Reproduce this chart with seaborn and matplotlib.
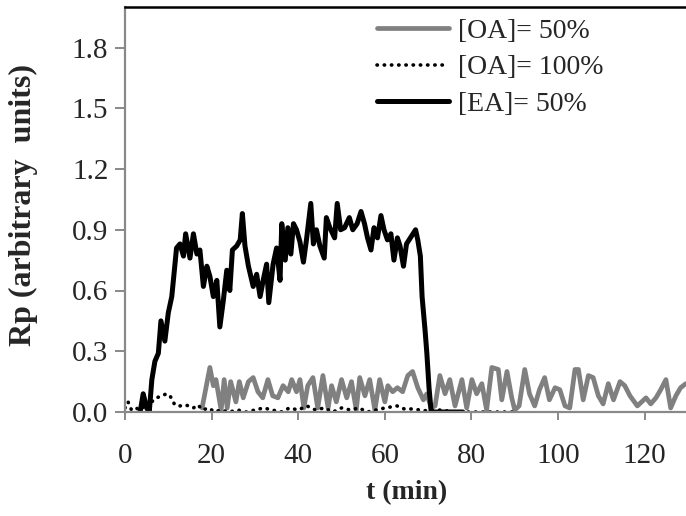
import numpy as np
import pandas as pd
import matplotlib
matplotlib.use("Agg")
import matplotlib.pyplot as plt
import seaborn as sns

# ── data ─────────────────────────────────────────────────────
t_oa50 = [17.8, 19.6, 20.4, 21.0, 22.2, 22.9, 23.6, 24.4, 25.6, 26.4,
          27.3, 28.5, 29.6, 30.7, 31.8, 33.0, 34.1, 35.3, 36.5, 37.7,
          38.5, 39.6, 40.4, 41.3, 42.2, 43.4, 44.5, 45.7, 46.9, 47.7,
          48.8, 50.0, 51.2, 52.3, 53.4, 54.2, 55.4, 56.5, 57.7, 58.8,
          60.0, 60.7, 61.8, 62.9, 64.1, 65.3, 66.4, 67.6, 68.9, 69.7,
          70.7, 71.6, 72.7, 73.9, 75.0, 76.2, 77.8, 78.9, 80.1, 81.2,
          82.4, 83.5, 84.7, 86.2, 87.0, 88.2, 89.3, 90.0, 91.0, 92.3,
          93.4, 94.6, 95.7, 96.9, 98.0, 99.3, 100.4, 101.6, 102.7, 103.9,
          104.7, 105.8, 107.0, 108.1, 109.3, 110.4, 111.6, 112.8, 114.3, 115.4,
          116.6, 118.3, 120.3, 121.4, 122.6, 123.7, 124.9, 126.0, 127.2, 128.3,
          129.5]
rp_oa50 = [0.02, 0.22, 0.13, 0.16, 0.01, 0.16, 0.02, 0.15, 0.05, 0.15,
           0.07, 0.15, 0.17, 0.10, 0.07, 0.16, 0.08, 0.07, 0.13, 0.10,
           0.16, 0.10, 0.16, 0.02, 0.13, 0.17, 0.02, 0.18, 0.02, 0.13,
           0.05, 0.16, 0.07, 0.15, 0.01, 0.17, 0.08, 0.16, 0.01, 0.16,
           0.05, 0.13, 0.10, 0.12, 0.10, 0.18, 0.20, 0.12, 0.06, 0.09,
           0.02, 0.03, 0.18, 0.09, 0.16, 0.03, 0.16, 0.02, 0.16, 0.09,
           0.14, 0.01, 0.22, 0.21, 0.06, 0.20, 0.07, 0.01, 0.03, 0.21,
           0.09, 0.03, 0.11, 0.17, 0.06, 0.12, 0.11, 0.03, 0.02, 0.21,
           0.21, 0.06, 0.18, 0.17, 0.08, 0.04, 0.14, 0.06, 0.15, 0.13,
           0.08, 0.03, 0.07, 0.04, 0.07, 0.11, 0.16, 0.02, 0.08, 0.12,
           0.14]

t_oa100 = [0.0, 0.7, 1.5, 2.5, 3.5, 4.5, 5.5, 6.5, 7.3, 8.5,
           9.6, 10.4, 11.5, 12.7, 13.8, 14.8, 15.8, 16.8, 18.0, 19.2,
           20.8, 22.0, 24.0, 26.0, 28.0, 30.0, 32.0, 34.0, 36.0, 38.0,
           40.0, 42.0, 44.0, 46.0, 48.0, 50.0, 52.0, 54.0, 56.0, 58.0,
           60.0, 62.8, 64.5, 66.5, 68.0, 70.0, 73.0, 76.0, 80.0, 85.0,
           90.0]
rp_oa100 = [0.02, 0.05, 0.01, 0.02, 0.01, 0.03, 0.02, 0.06, 0.07, 0.08,
            0.09, 0.08, 0.035, 0.03, 0.035, 0.03, 0.02, 0.035, 0.01, 0.02,
            0.0, 0.01, 0.0, 0.01, 0.0, 0.01, 0.02, 0.01, 0.0, 0.02,
            0.01, 0.03, 0.01, 0.02, 0.0, 0.02, 0.01, 0.02, 0.0, 0.01,
            0.02, 0.03, 0.015, 0.015, 0.01, 0.005, 0.01, 0.0, 0.0, 0.0,
            0.0]

t_ea50 = [3.5, 4.2, 5.0, 5.6, 6.2, 6.9, 7.7, 8.3, 9.2, 10.0,
          10.8, 11.4, 11.9, 12.7, 13.5, 14.0, 15.0, 15.8, 16.6, 17.3,
          18.1, 18.9, 19.6, 20.4, 21.2, 21.9, 22.7, 23.5, 24.2, 24.8,
          25.8, 26.6, 27.1, 27.7, 28.5, 29.6, 30.4, 31.2, 32.0, 32.7,
          33.2, 34.2, 35.0, 35.8, 36.2, 37.0, 37.6, 38.3, 38.9, 39.6,
          40.4, 41.2, 41.9, 42.9, 43.5, 44.2, 45.0, 46.0, 46.5, 47.3,
          48.4, 49.0, 49.8, 50.7, 51.8, 52.6, 53.6, 54.5, 55.3, 56.0,
          56.8, 57.5, 58.3, 59.1, 59.8, 60.6, 61.4, 62.1, 62.9, 63.5,
          64.3, 65.0, 65.9, 67.1, 67.6, 68.2, 68.6, 69.3, 69.7, 70.2,
          70.7, 74.0, 78.0]
rp_ea50 = [0.0, 0.09, 0.02, 0.0, 0.16, 0.25, 0.29, 0.45, 0.35, 0.49,
           0.57, 0.70, 0.81, 0.83, 0.77, 0.88, 0.76, 0.88, 0.78, 0.80,
           0.62, 0.72, 0.67, 0.57, 0.65, 0.42, 0.55, 0.70, 0.60, 0.80,
           0.82, 0.85, 0.98, 0.82, 0.72, 0.62, 0.68, 0.57, 0.66, 0.73,
           0.54, 0.73, 0.81, 0.65, 0.93, 0.75, 0.91, 0.78, 0.93, 0.90,
           0.84, 0.74, 0.85, 1.03, 0.83, 0.90, 0.82, 0.76, 0.96, 0.91,
           0.86, 1.03, 0.90, 0.91, 0.96, 0.90, 0.93, 0.99, 0.93, 0.86,
           0.80, 0.91, 0.86, 0.97, 0.90, 0.85, 0.88, 0.75, 0.86, 0.82,
           0.72, 0.83, 0.86, 0.90, 0.85, 0.77, 0.57, 0.40, 0.29, 0.12,
           0.0, 0.0, 0.0]

x_ticks = [0, 20, 40, 60, 80, 100, 120]
y_ticks = [0.0, 0.3, 0.6, 0.9, 1.2, 1.5, 1.8]

# ── style ────────────────────────────────────────────────────
sns.set_style("white")
plt.rcParams["font.family"] = ["Liberation Serif", "DejaVu Serif"]

fig = plt.figure(figsize=(6.86, 5.16), dpi=100)
ax = fig.add_axes([125 / 686, 104 / 516, 563 / 686, 405 / 516])

sns.lineplot(x=t_oa50, y=rp_oa50, ax=ax, color="#808080", lw=3.4,
             label="[OA]= 50%", sort=False)
sns.lineplot(x=t_oa100, y=rp_oa100, ax=ax, color="black", lw=2.6,
             linestyle=(0, (0.1, 1.9)), dash_capstyle="round",
             label="[OA]= 100%", sort=False)
sns.lineplot(x=t_ea50, y=rp_ea50, ax=ax, color="black", lw=3.6,
             label="[EA]= 50%", sort=False)

ax.set_xlim(0, 130)
ax.set_ylim(0, 2.0)
ax.set_xticks(x_ticks)
ax.set_yticks(y_ticks)
ax.set_yticklabels([f"{v:.1f}" for v in y_ticks])

for side in ["left", "bottom"]:
    ax.spines[side].set_color("#898989")
    ax.spines[side].set_linewidth(1.6)
ax.spines["top"].set_color("black")
ax.spines["top"].set_linewidth(1.8)
ax.spines["right"].set_visible(False)

ax.tick_params(axis="y", direction="out", length=7, width=1.4,
               color="#898989", labelsize=21, pad=5, left=True)
ax.tick_params(axis="x", direction="out", length=6, width=1.4,
               color="#898989", labelsize=21, pad=16, bottom=True)

ax.set_xlabel("t (min)", fontsize=20, fontweight="bold", labelpad=8)
ax.set_ylabel("Rp (arbitrary  units)", fontsize=23, fontweight="bold")
ax.yaxis.set_label_coords(-0.155, 0.51)

leg = ax.legend(loc="upper left", bbox_to_anchor=(0.448, 0.972),
                frameon=False, fontsize=20, handlelength=2.6,
                handletextpad=0.3, labelspacing=0.4, borderpad=0,
                borderaxespad=0)

fig.savefig("out.png", dpi=100)
